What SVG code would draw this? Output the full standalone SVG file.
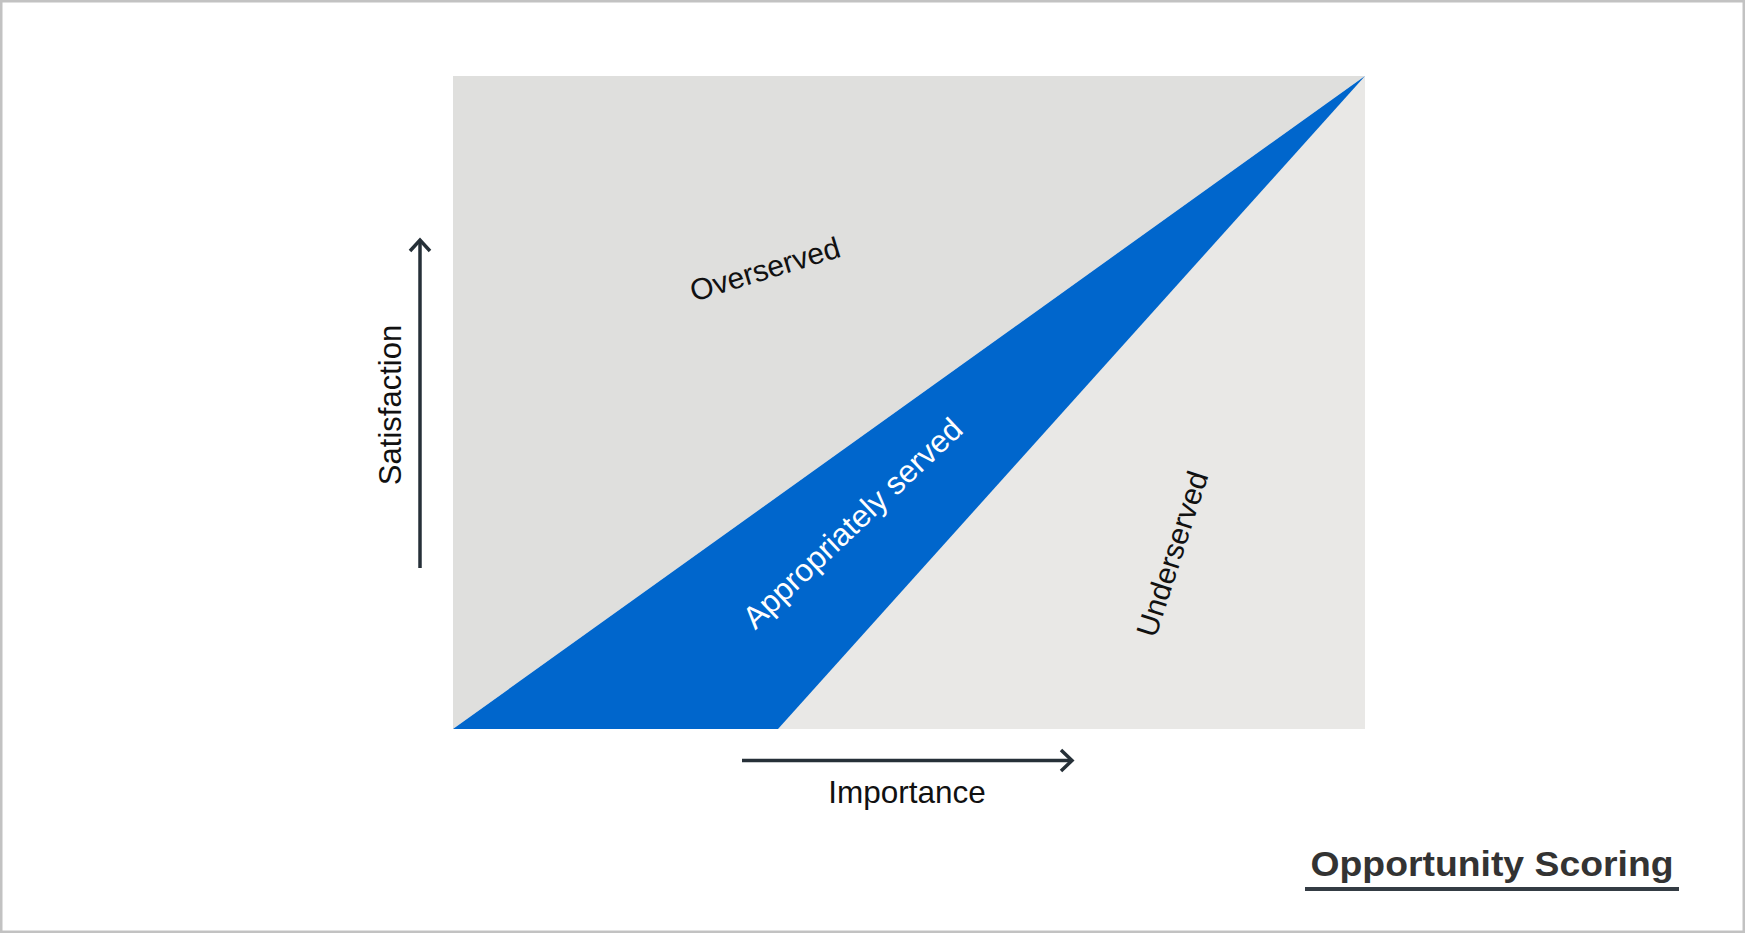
<svg xmlns="http://www.w3.org/2000/svg" width="1746" height="934" viewBox="0 0 1746 934">
  <style>
    .lbl { font-family: "Liberation Sans", Arial, sans-serif; font-size: 30px; fill: #111111; text-anchor: middle; }
    .axis { stroke: #263038; stroke-width: 3.5; fill: none; stroke-linecap: butt; }
    .head { stroke: #263038; stroke-width: 3.5; fill: none; stroke-linejoin: miter; }
  </style>
  <rect x="0" y="0" width="1746" height="934" fill="#ffffff"/>
  <rect id="frame" x="1.25" y="1.25" width="1742.5" height="930.5" fill="none" stroke="#c2c2c2" stroke-width="2.5"/>

  <g id="overserved-region">
    <polygon points="453,76 1365,76 453,729" fill="#dfdfdd"/>
  </g>
  <g id="underserved-region">
    <polygon points="1365,76 1365,729 453,729" fill="#e9e8e6"/>
  </g>
  <g id="appropriately-served-region">
    <polygon points="453,729 1365,76 778,729" fill="#0066cc"/>
  </g>

  <g id="connectors">
    <g id="satisfaction-axis">
      <line class="axis" x1="420" y1="568" x2="420" y2="241"/>
      <polyline class="head" points="410,251 420,240 430,251"/>
    </g>
    <g id="importance-axis">
      <line class="axis" x1="742" y1="760.5" x2="1070" y2="760.5"/>
      <polyline class="head" points="1061,750 1072,760.5 1061,771"/>
    </g>
  </g>

  <g id="label-overserved">
    <text class="lbl" transform="translate(768,279) rotate(-17)">Overserved</text>
  </g>
  <g id="label-appropriately-served">
    <text class="lbl" transform="translate(860,531) rotate(-43.5)" style="fill:#ffffff;font-size:31.5px">Appropriately served</text>
  </g>
  <g id="label-underserved">
    <text class="lbl" transform="translate(1182,557) rotate(-72)">Underserved</text>
  </g>
  <g id="label-satisfaction">
    <text class="lbl" transform="translate(401,405) rotate(-90)" style="font-size:31px">Satisfaction</text>
  </g>
  <g id="label-importance">
    <text class="lbl" x="907" y="803" style="font-size:31.5px">Importance</text>
  </g>
  <g id="title">
    <text x="1492" y="876" font-family="'Liberation Sans', Arial, sans-serif" font-size="35" font-weight="bold" fill="#333333" text-anchor="middle" textLength="363" lengthAdjust="spacingAndGlyphs">Opportunity Scoring</text>
    <line x1="1305" y1="889" x2="1679" y2="889" stroke="#343c44" stroke-width="4"/>
  </g>
</svg>
